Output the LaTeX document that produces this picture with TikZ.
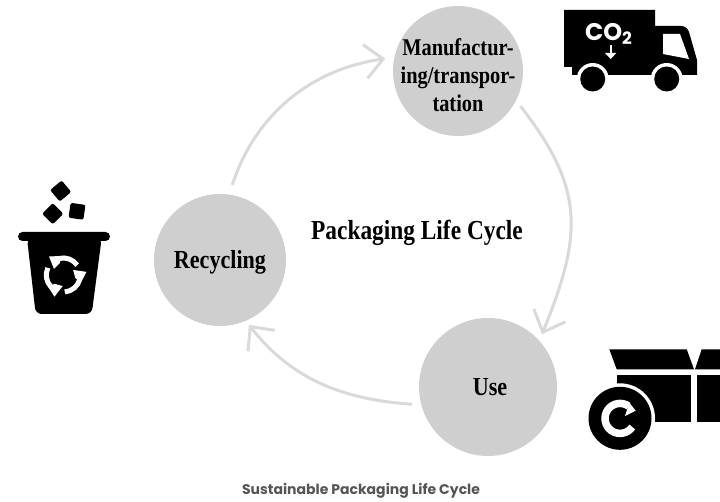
\documentclass[tikz,border=0pt]{standalone}
\usepackage{fontspec}
\setmainfont[FakeStretch=0.85]{Liberation Serif}
\newfontfamily\capfont{Poppins}
\usepackage{tikz}
\usetikzlibrary{arrows.meta}
\definecolor{stagegray}{HTML}{CFCFD0}
\definecolor{loopgray}{HTML}{D9D9D9}
\definecolor{capgray}{HTML}{555555}
\tikzset{
  stage/.style={circle,fill=stagegray,inner sep=0pt,align=center,font=\bfseries\fontsize{26}{30}\selectfont},
  loop/.style={loopgray,line width=3pt,-{Straight Barb[length=18pt,width=34pt,line width=3pt]}},
}

\begin{document}
\begin{tikzpicture}[x=1pt,y=-1pt]
    \useasboundingbox (0,0) rectangle (720,502);

    \node[stage,minimum size=130pt,inner sep=-12pt,font=\bfseries\fontsize{24}{28}\selectfont] (making) at (458,71)
      {\rule{0pt}{25pt}Manufactur-\\ing/transpor-\\tation};
    \node[stage,minimum size=132pt] (recycling) at (220,260) {\rule{0pt}{23pt}Recycling};
    \node[stage,minimum size=138pt] (use) at (488,387) {\hspace*{4pt}Use};
    \node[font=\bfseries\fontsize{27.5}{30}\selectfont] (title) at (417,233) {Packaging Life Cycle};
    \node[font=\capfont\bfseries\fontsize{14}{16}\selectfont,text=capgray] (caption) at (361,491)
      {Sustainable Packaging Life Cycle};

    \draw[loop,shorten <=10pt,shorten >=9pt] (recycling.82)
      to [out=72,in=188,looseness=1] (making.168);
    \draw[loop,shorten <=7pt,shorten >=7pt] (making.-27)
      to [out=-52,in=68,looseness=1.2] (use.42);
    \draw[loop,shorten <=9pt,shorten >=5pt] (use.195)
      to [out=176,in=-52,looseness=1] (recycling.-67);

    % truck
    \fill (564,10) -- (655,10) -- (655,26) -- (681,26)
      to [out=0,in=110] (689,32) -- (697,60) -- (697,75) -- (572,75)
      -- (572,67) -- (564,67) -- cycle;
    \fill[white] (663,34) -- (680,34) -- (689,59) -- (663,54) -- cycle;
    \fill[white] (592.7,79) circle (16) (666.7,79) circle (16);
    \fill (592.7,79) circle (12.5) (666.7,79) circle (12.5);
    \node[text=white,font=\capfont\bfseries\fontsize{24}{24}\selectfont] (cotwo) at (608.5,34)
      {CO\raisebox{-4pt}{\fontsize{17}{17}\selectfont 2}};
    \draw[white,line width=2pt,-{Triangle[length=6pt,width=11pt]}] (610.7,45) -- (610.7,59);

    % bin
    \fill[rounded corners=2pt,rotate around={40:(60.7,191)}] (53.2,183.5) rectangle (68.2,198.5);
    \fill[rounded corners=2pt,rotate around={45:(52.7,213.7)}] (45.2,206.2) rectangle (60.2,221.2);
    \fill[rounded corners=2pt,rotate around={-8:(77,211.3)}] (69.5,203.8) rectangle (84.5,218.8);
    \fill[rounded corners=4.5pt] (18,232) rectangle (110,241);
    \fill[rounded corners=6pt] (27,238) -- (101.7,238) -- (91.7,314) -- (35.7,314) -- cycle;
    \foreach \ang in {0,120,240}{
      \begin{scope}[rotate around={\ang:(63.3,275)}]
        \draw[white,line width=5pt] (77.2,265.2) arc[start angle=-35,end angle=-105,radius=17];
        \fill[white] (49,256.5) -- (60.5,256) -- (60,263) -- (54,269) -- cycle;
      \end{scope}
    }

    % box
    \fill (609.3,349.3) -- (686.7,349.3) -- (694,369.3) -- (616.7,369.3) -- cycle;
    \fill (701.7,349.3) -- (720,349.3) -- (720,369.3) -- (695,369.3) -- cycle;
    \fill (616.7,375) rectangle (691,421.7);
    \fill (696.7,375) rectangle (720,421.7);
    \fill[white] (620,418.3) circle (35);
    \fill (620,418.3) circle (31.5);
    \draw[white,line width=7.5pt] (632.3,427) arc[start angle=35,end angle=305,radius=15];
    \fill[white] (629.3,402.7) -- (635.7,410.7) -- (625,416) -- cycle;
\end{tikzpicture}
\end{document}
